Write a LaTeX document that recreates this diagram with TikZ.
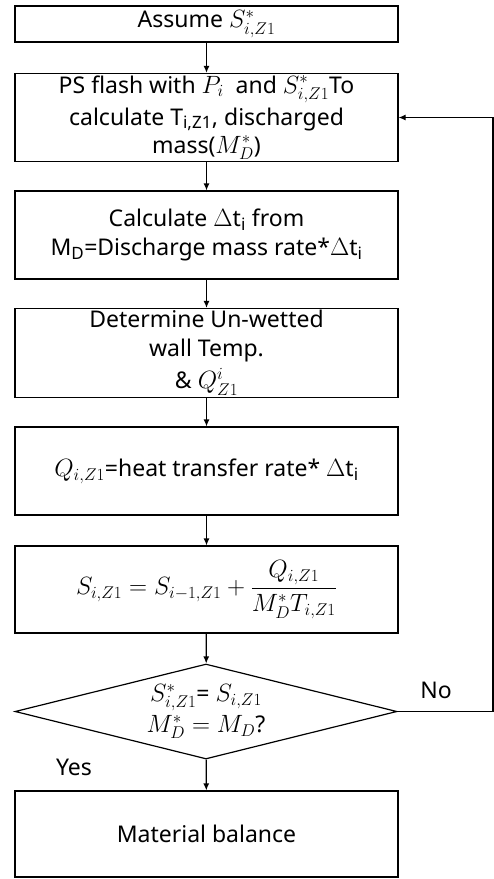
\documentclass[tikz,border=0pt]{standalone}
\usepackage{fix-cm}
\usepackage{amsmath}
\usepackage{fontspec}
\setmainfont{Noto Sans}
\DeclareMathSizes{23}{25}{17}{13}
\usetikzlibrary{arrows.meta,shapes.geometric}
\tikzset{
  box/.style={draw=black, line width=1.2pt, minimum width=383pt, inner sep=2pt, align=center, font=\fontsize{23}{29}\selectfont},
  arr/.style={line width=1.2pt, -{Latex[length=7pt,width=6pt]}},
  lbl/.style={font=\fontsize{23}{26}\selectfont, inner sep=0pt},
}
\begin{document}
\begin{tikzpicture}[x=1pt,y=-1pt]
\useasboundingbox (0,0) rectangle (494,879);
\node[box, minimum height=36pt] (b1) at (206.5,24) {Assume $S^{*}_{i,Z1}$};
\node[box, minimum height=87pt] (b2) at (206.5,117.5) {PS flash with $P_i$\ \ and $S^{*}_{i,Z1}$To\\[3pt]calculate T\textsubscript{i,Z1}, discharged\\[-1pt]mass($M_D^{*}$)};
\node[box, minimum height=88pt] (b3) at (206.5,235) {Calculate $\Delta$t\textsubscript{i} from\\M\textsubscript{D}=Discharge mass rate*$\Delta$t\textsubscript{i}};
\node[box, minimum height=88pt] (b4) at (206.5,353) {Determine Un-wetted\\wall Temp.\\[3pt]\& $Q^{i}_{Z1}$};
\node[box, minimum height=88pt] (b5) at (206.5,471) {$Q_{i,Z1}$=heat transfer rate* $\Delta$t\textsubscript{i}};
\node[box, minimum height=87pt] (b6) at (206.5,589.5) {$S_{i,Z1} = S_{i-1,Z1} + \dfrac{Q_{i,Z1}}{M_D^{*}T_{i,Z1}}$};
\node[draw=black, line width=1.2pt, diamond, aspect=4, minimum width=382pt, minimum height=95pt, inner sep=0pt, align=center, font=\fontsize{23}{28}\selectfont] (d) at (206,711.5) {$S^{*}_{i,Z1}$= $S_{i,Z1}$\\[3pt]$M_D^{*} = M_D$?};
\node[box, minimum height=86pt] (b7) at (206.5,834) {Material balance};
\draw[arr] (b1) -- (b2);
\draw[arr] (b2) -- (b3);
\draw[arr] (b3) -- (b4);
\draw[arr] (b4) -- (b5);
\draw[arr] (b5) -- (b6);
\draw[arr] (b6) -- (d);
\draw[arr] (d) -- (b7);
\coordinate (fb) at (493,711.5);
\draw[arr] (d.east) -- (fb) |- (b2.east);
\node[lbl] (no) at (436,690) {No};
\node[lbl] (yes) at (74,767) {Yes};
\end{tikzpicture}
\end{document}
